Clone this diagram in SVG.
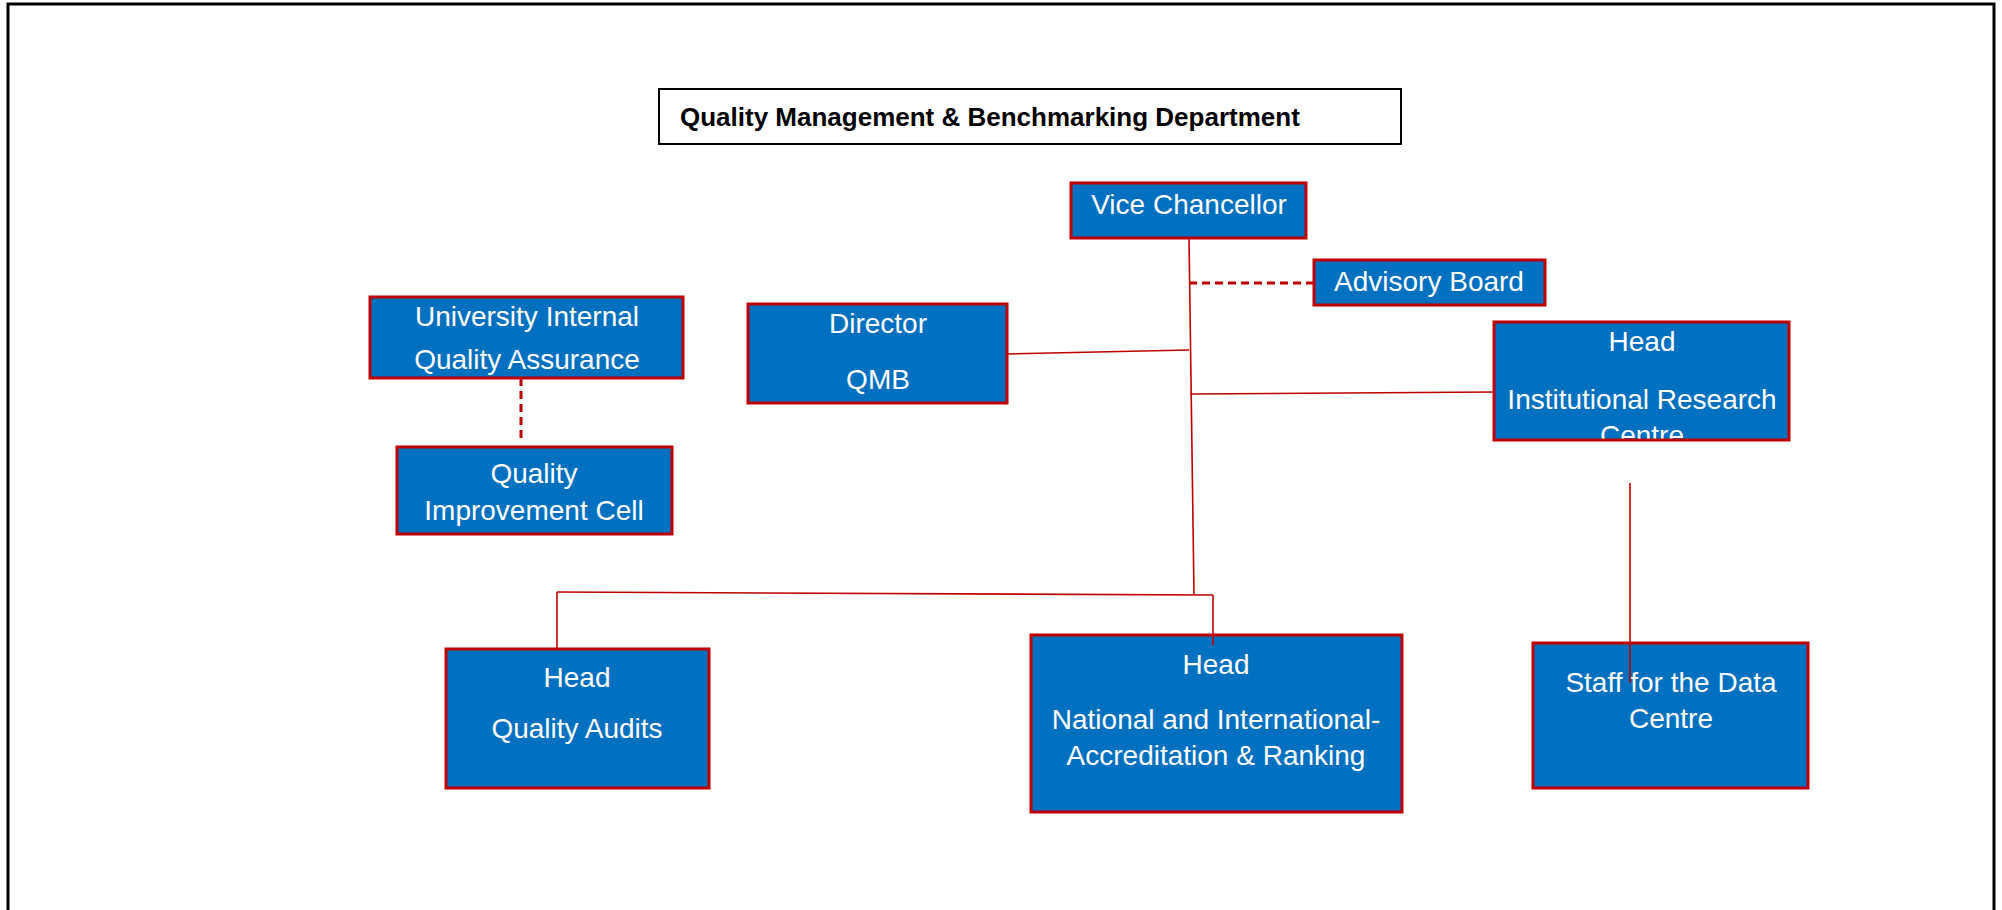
<svg xmlns="http://www.w3.org/2000/svg" width="2002" height="910" viewBox="0 0 2002 910">
  <style>
    .box { fill: #0070C0; }
    .edge { fill: none; stroke: #C00000; stroke-width: 3; }
    .lbl { fill: #FFFFFF; font-family: "Liberation Sans", Arial, sans-serif; font-size: 28px; text-anchor: middle; }
    .conn { fill: none; stroke: #C00000; stroke-width: 1.6; }
    .dash { fill: none; stroke: #C00000; stroke-width: 3; stroke-dasharray: 8 5; }
  </style>

  <rect width="2002" height="910" fill="#FFFFFF"/>
  <!-- page frame -->
  <path d="M8,920 V4 H1994 V920" fill="none" stroke="#000000" stroke-width="3"/>

  <!-- heading -->
  <g id="title">
    <rect x="659" y="89" width="742" height="55" fill="#FFFFFF" stroke="#000000" stroke-width="2"/>
    <text x="680" y="126" font-family="Liberation Sans, Arial, sans-serif" font-size="26" font-weight="bold" fill="#000000">Quality Management &amp; Benchmarking Department</text>
  </g>

  <g id="vice-chancellor">
    <rect class="box" x="1071" y="183" width="235" height="55"/>
    <text class="lbl" x="1189" y="214">Vice Chancellor</text>
    <rect class="edge" x="1071" y="183" width="235" height="55"/>
  </g>

  <g id="advisory-board">
    <rect class="box" x="1314" y="260" width="231" height="45"/>
    <text class="lbl" x="1429" y="291">Advisory Board</text>
    <rect class="edge" x="1314" y="260" width="231" height="45"/>
  </g>

  <g id="uiqa">
    <rect class="box" x="370" y="297" width="313" height="81"/>
    <text class="lbl" x="527" y="326">University Internal</text>
    <text class="lbl" x="527" y="369">Quality Assurance</text>
    <rect class="edge" x="370" y="297" width="313" height="81"/>
  </g>

  <g id="qic">
    <rect class="box" x="397" y="447" width="275" height="87"/>
    <text class="lbl" x="534" y="483">Quality</text>
    <text class="lbl" x="534" y="520">Improvement Cell</text>
    <rect class="edge" x="397" y="447" width="275" height="87"/>
  </g>

  <g id="director">
    <rect class="box" x="748" y="304" width="259" height="99"/>
    <text class="lbl" x="878" y="333">Director</text>
    <text class="lbl" x="878" y="389">QMB</text>
    <rect class="edge" x="748" y="304" width="259" height="99"/>
  </g>

  <g id="irc">
    <rect class="box" x="1494" y="322" width="295" height="118"/>
    <text class="lbl" x="1642" y="351">Head</text>
    <text class="lbl" x="1642" y="409" font-size="28.5">Institutional Research</text>
    <text class="lbl" x="1642" y="445" font-size="28.5">Centre</text>
    <rect class="edge" x="1494" y="322" width="295" height="118"/>
  </g>

  <g id="quality-audits">
    <rect class="box" x="446" y="649" width="263" height="139"/>
    <text class="lbl" x="577" y="687">Head</text>
    <text class="lbl" x="577" y="738">Quality Audits</text>
    <rect class="edge" x="446" y="649" width="263" height="139"/>
  </g>

  <g id="accreditation">
    <rect class="box" x="1031" y="635" width="371" height="177"/>
    <text class="lbl" x="1216" y="674">Head</text>
    <text class="lbl" x="1216" y="729">National and International-</text>
    <text class="lbl" x="1216" y="765">Accreditation &amp; Ranking</text>
    <rect class="edge" x="1031" y="635" width="371" height="177"/>
  </g>

  <g id="data-staff">
    <rect class="box" x="1533" y="643" width="275" height="145"/>
    <text class="lbl" x="1671" y="692" font-size="25">Staff for the Data</text>
    <text class="lbl" x="1671" y="728" font-size="25">Centre</text>
    <rect class="edge" x="1533" y="643" width="275" height="145"/>
  </g>

  <!-- connectors, drawn last so the ones that run into a box stay visible -->
  <g id="connectors">
    <path class="conn" d="M1189,238 L1194,594"/>
    <path class="dash" d="M1189,283 H1314"/>
    <path class="conn" d="M1007,354 L1189,350"/>
    <path class="conn" d="M1190,394 L1494,392"/>
    <path class="dash" d="M521,378 V440" stroke-dasharray="6 4" stroke-width="2"/>
    <path class="conn" d="M557,592 L1213,595"/>
    <path class="conn" d="M557,592 V649"/>
    <path class="conn" d="M1213,595 V645"/>
    <path class="conn" d="M1630,483 V683"/>
  </g>
</svg>
